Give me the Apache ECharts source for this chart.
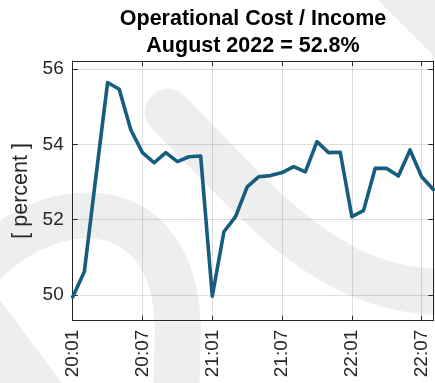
<!DOCTYPE html>
<html>
<head>
<meta charset="utf-8">
<style>
  html, body { margin: 0; padding: 0; background: #ffffff; }
  #chart { width: 435px; height: 383px; }
</style>
<script src="https://cdn.jsdelivr.net/npm/echarts@6/dist/echarts.min.js"></script>
</head>
<body>
<div id="chart"></div>
<script>
// Monthly ratio of operational cost to income, Jan 2020 .. Aug 2022 (yy:mm)
const months = [
  '20:01','20:02','20:03','20:04','20:05','20:06','20:07','20:08','20:09','20:10','20:11','20:12',
  '21:01','21:02','21:03','21:04','21:05','21:06','21:07','21:08','21:09','21:10','21:11','21:12',
  '22:01','22:02','22:03','22:04','22:05','22:06','22:07','22:08'
];
const costIncome = [
  49.95, 50.62, 53.15, 55.64, 55.46, 54.38, 53.78, 53.51, 53.78, 53.54, 53.67, 53.69,
  49.97, 51.68, 52.08, 52.87, 53.14, 53.17, 53.25, 53.41, 53.27, 54.07, 53.78, 53.79,
  52.08, 52.24, 53.36, 53.36, 53.16, 53.85, 53.14, 52.8
];
const yTicks = [50, 52, 54, 56];
const yRange = [49.32, 56.21];
const titleLines = ['Operational Cost / Income', 'August 2022 = 52.8%'];
const yName = '[ percent ]';

const FONT = 'Liberation Sans, Arial, Helvetica, sans-serif';
const INK = '#262626';
const GRID = 'rgba(0,0,0,0.13)';
const WM = '#eeeeee';
const everySix = (i) => i % 6 === 0;

const chart = echarts.init(document.getElementById('chart'), null, { renderer: 'canvas' });

const baseX = {
  type: 'category',
  data: months,
  boundaryGap: false,
  axisLine: { show: true, onZero: false, lineStyle: { color: INK, width: 1 } },
  axisTick: { show: true, inside: true, length: 5, interval: everySix, lineStyle: { color: INK } }
};
const baseY = {
  type: 'value',
  min: yRange[0],
  max: yRange[1],
  axisLine: { show: true, onZero: false, lineStyle: { color: INK, width: 1 } },
  axisTick: { show: true, inside: true, length: 5, customValues: yTicks, lineStyle: { color: INK } }
};

chart.setOption({
  animation: false,
  backgroundColor: '#ffffff',
  textStyle: { fontFamily: FONT },
  title: {
    text: titleLines.join('\n'),
    left: 253,
    textAlign: 'center',
    top: 6,
    padding: 0,
    textStyle: { fontFamily: FONT, fontSize: 21.5, fontWeight: 'bold', color: '#000000', lineHeight: 26.5 }
  },
  // light background emblem behind the plot
  graphic: [
    { type: 'polygon', z: -10, silent: true, shape: { points: [[378, 0], [435, 0], [435, 57]] }, style: { fill: WM } },
    { type: 'polygon', z: -10, silent: true, shape: { points: [[0, 300], [62, 383], [0, 383]] }, style: { fill: WM } },
    { type: 'bezierCurve', z: -10, silent: true,
      shape: { x1: -30, y1: 280, cpx1: 30, cpy1: 197, cpx2: 175, cpy2: 175, x2: 178, y2: 330 },
      style: { stroke: WM, fill: null, lineWidth: 46, lineCap: 'butt' } },
    { type: 'line', z: -10, silent: true,
      shape: { x1: 178, y1: 329, x2: 176, y2: 400 },
      style: { stroke: WM, lineWidth: 46, lineCap: 'butt' } },
    { type: 'bezierCurve', z: -10, silent: true,
      shape: { x1: 168, y1: 112, cpx1: 260, cpy1: 205, cpx2: 330, cpy2: 295, x2: 450, y2: 292 },
      style: { stroke: WM, fill: null, lineWidth: 46, lineCap: 'round' } }
  ],
  grid: { left: 72.7, right: 1.7, top: 61, bottom: 62.3, containLabel: false },
  xAxis: [
    Object.assign({}, baseX, {
      position: 'bottom',
      axisLabel: {
        show: true, interval: everySix, rotate: 90, margin: 9,
        fontSize: 19, color: INK, fontFamily: FONT
      },
      splitLine: { show: true, interval: everySix, lineStyle: { color: GRID, width: 1 } }
    }),
    Object.assign({}, baseX, {
      position: 'top',
      axisLabel: { show: false },
      splitLine: { show: false }
    })
  ],
  yAxis: [
    Object.assign({}, baseY, {
      position: 'left',
      name: yName,
      nameLocation: 'middle',
      nameRotate: 90,
      nameGap: 39,
      nameTextStyle: { fontSize: 21.5, color: INK, fontFamily: FONT },
      axisLabel: { show: true, customValues: yTicks, margin: 9, fontSize: 19, color: INK, fontFamily: FONT },
      splitLine: { show: true, lineStyle: { color: GRID, width: 1 } }
    }),
    Object.assign({}, baseY, {
      position: 'right',
      axisLabel: { show: false },
      splitLine: { show: false }
    })
  ],
  series: [{
    type: 'line',
    data: costIncome,
    xAxisIndex: 0,
    yAxisIndex: 0,
    showSymbol: false,
    symbol: 'none',
    lineStyle: { color: '#165d7f', width: 3.6, join: 'round', cap: 'round' },
    z: 5
  }]
});
</script>
</body>
</html>
